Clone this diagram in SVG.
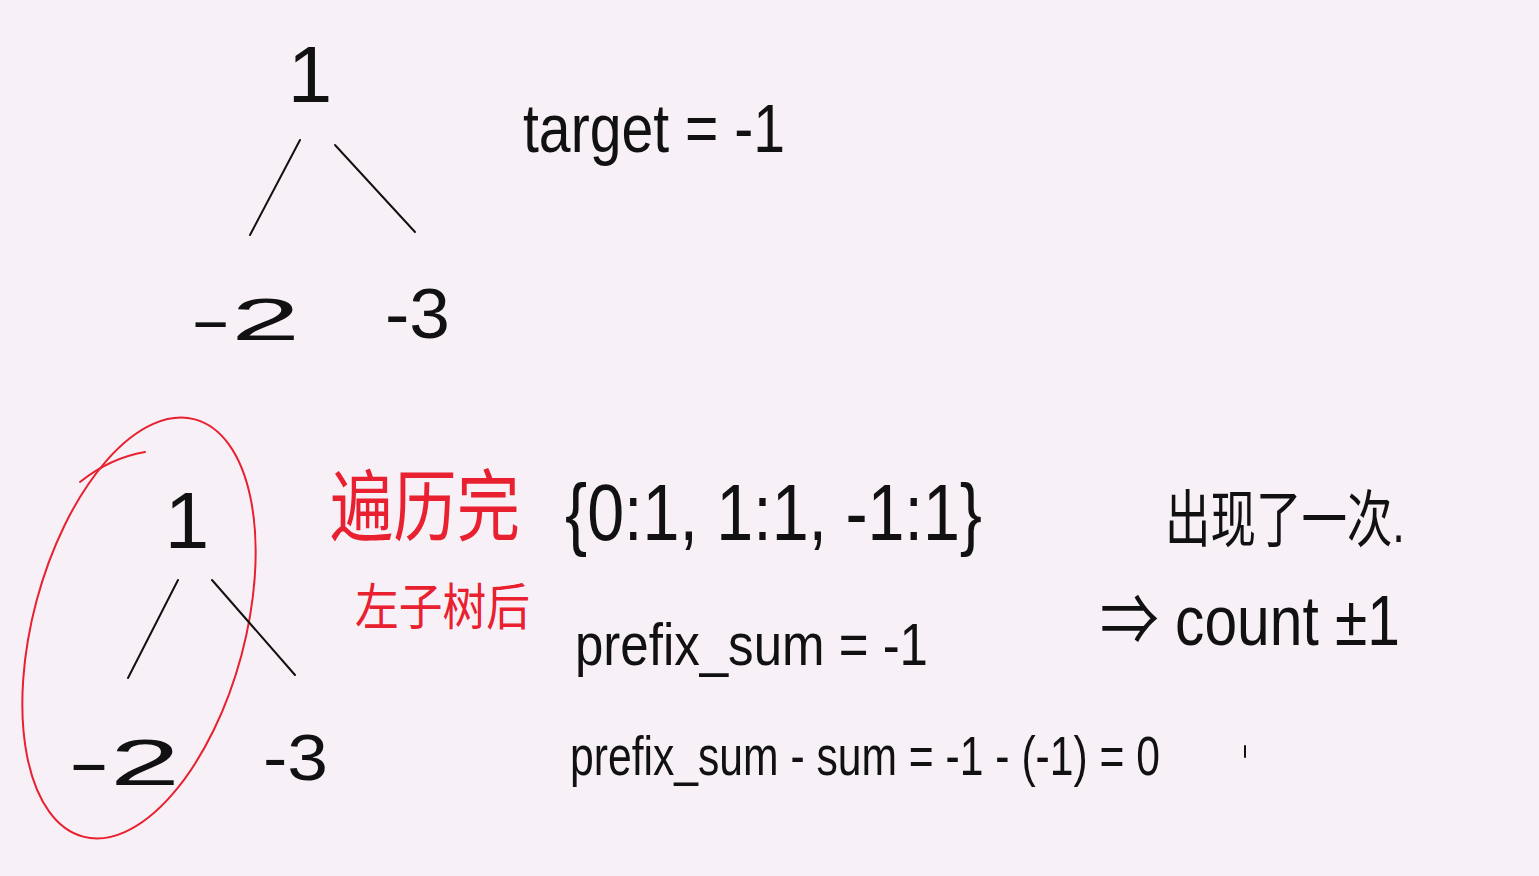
<svg xmlns="http://www.w3.org/2000/svg" width="1539" height="876" viewBox="0 0 1539 876">
<style>
.ink{fill:#111;font-family:"Liberation Sans","Noto Sans CJK SC",sans-serif;}
.red{fill:#e8202f;font-family:"Noto Sans CJK SC","Liberation Sans",sans-serif;}
.edge{stroke:#111;stroke-width:2;fill:none;stroke-linecap:round;}
.redline{stroke:#e8202f;stroke-width:2;fill:none;stroke-linecap:round;}
</style>
<rect width="1539" height="876" fill="#f7f1f7"/>
<g id="top-tree-root"><text class="ink" x="310" y="102" font-size="80" text-anchor="middle">1</text></g>
<g id="top-tree-left"><text class="ink" x="190" y="340" font-size="60" textLength="110" lengthAdjust="spacingAndGlyphs">-2</text></g>
<g id="top-tree-right"><text class="ink" x="385" y="338" font-size="70" textLength="65" lengthAdjust="spacingAndGlyphs">-3</text></g>
<g id="target"><text class="ink" x="523" y="152" font-size="68" textLength="262" lengthAdjust="spacingAndGlyphs">target = -1</text></g>
<g id="bottom-tree-root"><text class="ink" x="187" y="548" font-size="80" text-anchor="middle">1</text></g>
<g id="bottom-tree-left"><text class="ink" x="68" y="785" font-size="65" textLength="112" lengthAdjust="spacingAndGlyphs">-2</text></g>
<g id="bottom-tree-right"><text class="ink" x="263" y="780" font-size="65" textLength="65" lengthAdjust="spacingAndGlyphs">-3</text></g>
<g id="highlight">
<ellipse cx="139" cy="628" rx="106" ry="216" transform="rotate(15 139 628)" class="redline"/>
<path d="M80 482 Q110 458 145 452" class="redline"/>
</g>
<g id="note-red">
<text class="red" x="330" y="535" font-size="78" textLength="190" lengthAdjust="spacingAndGlyphs">遍历完</text>
<text class="red" x="355" y="625" font-size="50" textLength="175" lengthAdjust="spacingAndGlyphs">左子树后</text>
</g>
<g id="hashmap"><text class="ink" x="565" y="540" font-size="80" textLength="417" lengthAdjust="spacingAndGlyphs">{0:1, 1:1, -1:1}</text></g>
<g id="occurred"><text class="ink" x="1165" y="542" font-size="62" textLength="240" lengthAdjust="spacingAndGlyphs">出现了一次.</text></g>
<g id="count"><text class="ink" x="1100" y="645" font-size="70" textLength="300" lengthAdjust="spacingAndGlyphs">⇒ count ±1</text></g>
<g id="prefix-sum"><text class="ink" x="575" y="665" font-size="60" textLength="353" lengthAdjust="spacingAndGlyphs">prefix_sum = -1</text></g>
<g id="prefix-diff"><text class="ink" x="570" y="775" font-size="55" textLength="590" lengthAdjust="spacingAndGlyphs">prefix_sum - sum = -1 - (-1) = 0</text></g>
<g id="mark"><line x1="1245" y1="746" x2="1245" y2="757" class="edge"/></g>
<g id="connectors">
<line x1="300" y1="140" x2="250" y2="235" class="edge"/>
<line x1="335" y1="145" x2="415" y2="232" class="edge"/>
<line x1="178" y1="580" x2="128" y2="678" class="edge"/>
<line x1="212" y1="580" x2="295" y2="675" class="edge"/>
</g>
</svg>
